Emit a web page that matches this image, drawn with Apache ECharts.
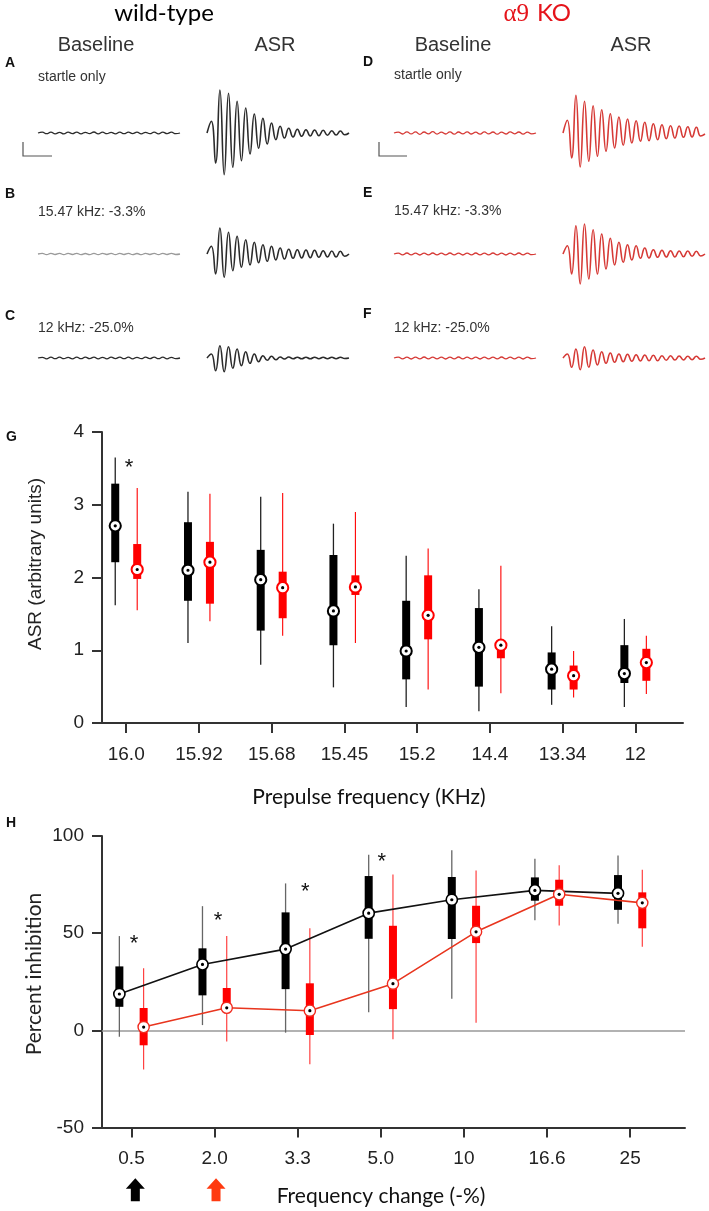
<!DOCTYPE html>
<html>
<head>
<meta charset="utf-8">
<script src="https://cdn.jsdelivr.net/npm/echarts@6/dist/echarts.min.js"></script>
<style>
html, body { margin: 0; padding: 0; background: #fff; }
#main { width: 709px; height: 1211px; }
</style>
</head>
<body>
<div id="main"></div>
<script>
// ---- traces A-F: extrema (px of deflection, up = +) ----
var wtBaseA = [0, 0.8, -0.7, 0.9, -0.8, 0.6, -0.9, 0.8, -0.6, 0.9, -0.8, 0.7, -0.7, 1.0, -0.9, 0.8, -0.7, 0.6, -0.8, 0.9, -0.7, 0.8, -0.6, 0.8, -0.9, 0.7, -0.7, 0.8, -0.8, 0.9, -0.6, 0.8, -0.7, 0];
var wtAsrA = [0, 11.7, -30, 43, -41.7, 39.7, -34.3, 31.7, -27.7, 25, -21, 19, -15.3, 14.7, -11, 10, -6.7, 6.7, -5, 4.7, -4, 3.7, -3.3, 3.3, -3, 3, -2.7, 2.7, -2.3, 2.3, -2, 2, -1.7, 0];
var wtBaseB = [0, 0.6, -0.6, 0.7, -0.5, 0.6, -0.7, 0.6, -0.5, 0.7, -0.6, 0.5, -0.6, 0.7, -0.6, 0.6, -0.5, 0.6, -0.6, 0.7, -0.5, 0.6, -0.6, 0.5, -0.7, 0.6, -0.5, 0.6, -0.6, 0.7, -0.5, 0.6, -0.5, 0];
var wtAsrB = [0, 7.7, -20, 26, -23.3, 21.7, -16.7, 17.7, -13.3, 14.3, -11, 11.7, -8.7, 9.3, -7.3, 7.7, -6, 6, -5, 4.7, -4.3, 4.3, -4, 4, -3.7, 3.7, -3.3, 3.3, -3, 3, -3, 2.7, -2.3, 0];
var wtBaseC = [0, 0.7, -0.8, 0.8, -0.7, 0.9, -0.7, 0.6, -0.8, 0.8, -0.7, 0.9, -0.6, 0.8, -0.8, 0.7, -0.9, 0.8, -0.6, 0.8, -0.7, 0.9, -0.8, 0.7, -0.7, 0.8, -0.6, 0.9, -0.7, 0.8, -0.8, 0.7, -0.6, 0];
var wtAsrC = [0, 4, -12.7, 12.3, -13.7, 11.3, -10.3, 9, -7.7, 6.3, -5.3, 4, -3.7, 2.3, -2.3, 1.7, -1.7, 1, -1, 1, -0.8, 0.8, -0.8, 0.8, -0.8, 0.8, -0.7, 0.7, -0.7, 0.7, -0.7, 0.7, -0.5, 0];
var koBaseD = [0, 0.9, -1.0, 1.2, -0.9, 1.1, -1.3, 1.0, -0.8, 1.3, -1.1, 0.9, -1.0, 1.2, -1.2, 1.0, -0.9, 1.1, -1.0, 0.8, -1.1, 1.2, -0.9, 1.0, -1.2, 0.9, -1.0, 1.1, -0.8, 1.0, -1.1, 0.9, -0.8, 0];
var koAsrD = [0, 12.7, -25, 37.7, -34, 31.7, -28.3, 27.3, -23.3, 23.3, -18.3, 19.3, -15, 16, -12.3, 14, -10, 12.3, -8.3, 10.7, -7.7, 9.3, -6.7, 8.3, -5.7, 7.3, -5, 7, -4.3, 6.3, -4, 5.7, -3, -1];
var koBaseE = [0, 0.8, -0.9, 1.0, -0.8, 0.9, -1.0, 0.8, -0.9, 1.0, -0.8, 0.9, -0.9, 1.0, -0.8, 0.9, -1.0, 0.8, -0.9, 1.0, -0.8, 0.9, -0.8, 1.0, -0.9, 0.8, -1.0, 0.9, -0.8, 1.0, -0.9, 0.8, -0.7, 0];
var koAsrE = [0, 8.3, -20, 28.3, -30, 30, -25, 24.3, -20, 20, -15, 15.7, -11, 11.7, -8.3, 9.3, -6, 8.3, -4.3, 6, -4, 4.3, -3.3, 3.7, -3, 3.3, -3, 3, -2.7, 3, -2.3, 2.7, -2, 0];
var koBaseF = [0, 0.8, -0.8, 0.9, -1.0, 0.8, -0.9, 1.0, -0.8, 0.9, -0.9, 0.8, -1.0, 0.9, -0.8, 1.0, -0.9, 0.8, -0.8, 0.9, -1.0, 0.8, -0.9, 0.9, -0.8, 1.0, -0.8, 0.9, -0.9, 0.8, -1.0, 0.9, -0.7, 0];
var koAsrF = [0, 4, -9.3, 9, -11.7, 11.3, -9.3, 8, -7, 6.3, -5.3, 5, -4.3, 4, -3.7, 3.7, -3.3, 3.3, -3, 3, -2.7, 2.7, -2.7, 2.3, -2.3, 2.3, -2, 2, -2, 1.7, -1.7, 1.7, -1.3, 0];

// ---- panel G: ASR per prepulse frequency, [min, q1, median, q3, max] ----
var gCats = ['16.0', '15.92', '15.68', '15.45', '15.2', '14.4', '13.34', '12'];
var gWildType = [
    [1.62, 2.21, 2.71, 3.29, 3.65],
    [1.10, 1.68, 2.10, 2.76, 3.18],
    [0.80, 1.27, 1.97, 2.38, 3.11],
    [0.49, 1.07, 1.54, 2.31, 2.74],
    [0.22, 0.60, 0.99, 1.68, 2.30],
    [0.16, 0.50, 1.04, 1.58, 1.84],
    [0.25, 0.46, 0.74, 0.97, 1.33],
    [0.22, 0.55, 0.68, 1.07, 1.43]
];
var gKnockout = [
    [1.55, 1.98, 2.11, 2.46, 3.23],
    [1.40, 1.64, 2.21, 2.49, 3.15],
    [1.20, 1.44, 1.86, 2.08, 3.16],
    [1.10, 1.76, 1.87, 2.03, 2.90],
    [0.46, 1.15, 1.48, 2.03, 2.40],
    [0.41, 0.89, 1.07, 1.14, 2.16],
    [0.35, 0.46, 0.65, 0.79, 0.99],
    [0.40, 0.58, 0.83, 1.02, 1.20]
];
var gSig = [[0.04, 3.57]];

// ---- panel H: percent inhibition per frequency change ----
var hCats = ['0.5', '2.0', '3.3', '5.0', '10', '16.6', '25'];
var hWildType = [
    [-3.3, 12.1, 18.7, 32.9, 48.5],
    [2.7, 18.0, 33.9, 42.2, 63.9],
    [-1.2, 21.2, 41.8, 60.7, 75.6],
    [9.3, 47.1, 60.3, 79.4, 90.3],
    [16.3, 47.0, 67.2, 78.9, 92.7],
    [56.6, 66.7, 72.0, 78.7, 88.3],
    [54.8, 62.0, 70.5, 79.9, 90.0]
];
var hKnockout = [
    [-20.1, -7.7, 1.7, 11.5, 32.0],
    [-5.8, 9.5, 11.6, 21.8, 48.5],
    [-17.5, -2.4, 10.1, 24.2, 52.5],
    [-4.6, 10.9, 24.0, 53.8, 80.2],
    [3.9, 44.9, 50.7, 64.1, 82.3],
    [54.0, 64.1, 70.0, 77.5, 85.0],
    [43.0, 52.5, 65.6, 71.0, 82.6]
];
var hSig = [[0.03, 47.2], [1.04, 59], [2.09, 73.9], [3.01, 89.3]];
var hArrows = [[0.046, -82, '#000000'], [1.017, -82, '#ff3a10']];

var FONT = 'Liberation Sans, Arial, sans-serif';
var LATO = 'Lato, Noto Sans, sans-serif';
var WT = '#2b2b2b', KO = '#d63a36', RED = '#ff0000';

var chart = echarts.init(document.getElementById('main'));

// trace layout: columns = WT baseline, WT ASR, KO baseline, KO ASR; rows = A/D, B/E, C/F
var traceCols = [38, 207, 394, 563];
var traceRows = [133, 254, 358];
var traces = [
    { d: wtBaseA, c: 0, r: 0, color: WT, w: 1.3 },
    { d: wtAsrA, c: 1, r: 0, color: WT, w: 1.6 },
    { d: wtBaseB, c: 0, r: 1, color: '#9a9a9a', w: 1.3 },
    { d: wtAsrB, c: 1, r: 1, color: WT, w: 1.6 },
    { d: wtBaseC, c: 0, r: 2, color: WT, w: 1.3 },
    { d: wtAsrC, c: 1, r: 2, color: WT, w: 1.6 },
    { d: koBaseD, c: 2, r: 0, color: KO, w: 1.3 },
    { d: koAsrD, c: 3, r: 0, color: KO, w: 1.6 },
    { d: koBaseE, c: 2, r: 1, color: KO, w: 1.3 },
    { d: koAsrE, c: 3, r: 1, color: KO, w: 1.6 },
    { d: koBaseF, c: 2, r: 2, color: KO, w: 1.3 },
    { d: koAsrF, c: 3, r: 2, color: KO, w: 1.6 }
];

var grids = [], xAxes = [], yAxes = [], series = [];
traces.forEach(function (t, k) {
    grids.push({ left: traceCols[t.c], top: traceRows[t.r] - 50, width: 142, height: 100 });
    xAxes.push({ gridIndex: k, type: 'value', min: 0, max: t.d.length - 1, show: false });
    yAxes.push({ gridIndex: k, type: 'value', min: -50, max: 50, show: false });
    series.push({
        type: 'line', xAxisIndex: k, yAxisIndex: k, silent: true, smooth: true, symbol: 'none',
        lineStyle: { color: t.color, width: t.w },
        data: t.d.map(function (v, i) { return [i, v]; })
    });
});

var G = traces.length, H = traces.length + 1;
var G_OFF = 0.151, H_OFF = 0.146;

grids.push({ left: 102, right: 26, top: 432, bottom: 488 });
grids.push({ left: 102, right: 24, top: 836, bottom: 83.5 });

function idx(arr) { return arr.map(function (c, i) { return i; }); }

function catAxis(grid, cats, min, max) {
    return {
        gridIndex: grid, type: 'value', min: min, max: max,
        axisLine: { show: true, onZero: false, lineStyle: { color: '#333', width: 2 } },
        axisTick: { show: true, customValues: idx(cats), length: 10, lineStyle: { color: '#333', width: 2 } },
        axisLabel: {
            customValues: idx(cats), margin: 22, fontSize: 19, color: '#222', fontFamily: FONT,
            formatter: function (v) { return cats[Math.round(v)]; }
        },
        splitLine: { show: false }
    };
}
function valAxis(grid, min, max, step) {
    return {
        gridIndex: grid, type: 'value', min: min, max: max, interval: step,
        axisLine: { show: true, onZero: false, lineStyle: { color: '#333', width: 2 } },
        axisTick: { show: true, length: 10, lineStyle: { color: '#333', width: 2 } },
        axisLabel: { margin: 18, fontSize: 19, color: '#222', fontFamily: FONT },
        splitLine: { show: false }
    };
}
xAxes.push(catAxis(G, gCats, -0.333, 7.655));
xAxes.push(catAxis(H, hCats, -0.355, 6.66));
yAxes.push(valAxis(G, 0, 4, 1));
yAxes.push(valAxis(H, -50, 100, 50));

function boxSeries(ax, rows, off, fill, whisker, ww) {
    return {
        type: 'custom', xAxisIndex: ax, yAxisIndex: ax, z: 2, silent: true,
        data: rows.map(function (r, i) { return [i + off].concat(r); }),
        renderItem: function (p, api) {
            var x = api.value(0);
            var lo = api.coord([x, api.value(1)]);
            var q1 = api.coord([x, api.value(2)]);
            var q3 = api.coord([x, api.value(4)]);
            var hi = api.coord([x, api.value(5)]);
            return {
                type: 'group', children: [
                    { type: 'line', shape: { x1: lo[0], y1: lo[1], x2: hi[0], y2: hi[1] }, style: { stroke: whisker, lineWidth: ww } },
                    { type: 'rect', shape: { x: lo[0] - 4, y: q3[1], width: 8, height: q1[1] - q3[1] }, style: { fill: fill } }
                ]
            };
        }
    };
}
function medianSeries(ax, rows, off, ring, lw) {
    return {
        type: 'custom', xAxisIndex: ax, yAxisIndex: ax, z: 4, silent: true,
        data: rows.map(function (r, i) { return [i + off, r[2]]; }),
        renderItem: function (p, api) {
            var c = api.coord([api.value(0), api.value(1)]);
            return {
                type: 'group', children: [
                    { type: 'circle', shape: { cx: c[0], cy: c[1], r: 5.6 }, style: { fill: '#fff', stroke: ring, lineWidth: lw } },
                    { type: 'circle', shape: { cx: c[0], cy: c[1], r: 1.6 }, style: { fill: '#000' } }
                ]
            };
        }
    };
}
function starSeries(ax, pts) {
    return {
        type: 'custom', xAxisIndex: ax, yAxisIndex: ax, z: 5, silent: true, data: pts,
        renderItem: function (p, api) {
            var c = api.coord([api.value(0), api.value(1)]);
            return { type: 'text', x: c[0], y: c[1] + 5, style: { text: '*', fontSize: 22, fontFamily: FONT, fill: '#111', align: 'center', verticalAlign: 'middle' } };
        }
    };
}

// panel G
series.push(boxSeries(G, gWildType, -G_OFF, '#000', '#222', 1.3));
series.push(boxSeries(G, gKnockout, G_OFF, RED, RED, 1.1));
series.push(medianSeries(G, gWildType, -G_OFF, '#000', 2));
series.push(medianSeries(G, gKnockout, G_OFF, RED, 2));
series.push(starSeries(G, gSig));

// panel H
series.push(boxSeries(H, hWildType, -H_OFF, '#000', '#666', 1.3));
series.push(boxSeries(H, hKnockout, H_OFF, RED, '#ff3030', 1.1));
series.push({
    type: 'line', xAxisIndex: H, yAxisIndex: H, z: 3, silent: true, symbol: 'none',
    lineStyle: { color: '#111', width: 1.6 },
    data: hWildType.map(function (r, i) { return [i - H_OFF, r[2]]; }),
    markLine: {
        z: 1, silent: true, symbol: 'none', label: { show: false },
        lineStyle: { color: '#999', width: 1.5, type: 'solid' },
        data: [{ yAxis: 0 }]
    }
});
series.push({
    type: 'line', xAxisIndex: H, yAxisIndex: H, z: 3, silent: true, symbol: 'none',
    lineStyle: { color: '#e8351e', width: 1.6 },
    data: hKnockout.map(function (r, i) { return [i + H_OFF, r[2]]; })
});
series.push(medianSeries(H, hWildType, -H_OFF, '#000', 1.6));
series.push(medianSeries(H, hKnockout, H_OFF, '#f02a1e', 1.4));
series.push(starSeries(H, hSig));
series.push({
    type: 'custom', xAxisIndex: H, yAxisIndex: H, z: 5, silent: true, clip: false, data: hArrows,
    renderItem: function (p, api) {
        var c = api.coord([api.value(0), api.value(1)]);
        var pts = [[0, -11.5], [9.5, -1], [4.5, -1], [4.5, 11.5], [-4.5, 11.5], [-4.5, -1], [-9.5, -1]];
        return {
            type: 'polygon',
            shape: { points: pts.map(function (q) { return [c[0] + q[0], c[1] + q[1]]; }) },
            style: { fill: hArrows[p.dataIndex][2] }
        };
    }
});

function txt(s, x, y, size, family, color, align, extra) {
    var el = {
        type: 'text', x: x, y: y, silent: true,
        style: { text: s, fontSize: size, fontFamily: family, fill: color, align: align || 'center', verticalAlign: 'middle' }
    };
    if (extra) { for (var k in extra) { if (k === 'rotation') el.rotation = extra[k]; else el.style[k] = extra[k]; } }
    return el;
}
var bold = { fontWeight: 'bold' };
var graphic = [
    txt('wild-type', 164, 13, 24, LATO, '#000'),
    txt('α9', 529, 14, 25, 'Liberation Serif, serif', '#e5141b', 'right'),
    txt('KO', 537, 13, 24, LATO, '#e5141b', 'left'),
    txt('Baseline', 96, 45, 20, FONT, '#333'),
    txt('ASR', 275, 45, 20, FONT, '#333'),
    txt('Baseline', 453, 45, 20, FONT, '#333'),
    txt('ASR', 631, 45, 20, FONT, '#333'),
    txt('A', 5, 63, 14, FONT, '#111', 'left', bold),
    txt('B', 5, 194, 14, FONT, '#111', 'left', bold),
    txt('C', 5, 316, 14, FONT, '#111', 'left', bold),
    txt('D', 363, 62, 14, FONT, '#111', 'left', bold),
    txt('E', 363, 193, 14, FONT, '#111', 'left', bold),
    txt('F', 363, 314, 14, FONT, '#111', 'left', bold),
    txt('startle only', 38, 77, 14, FONT, '#333', 'left'),
    txt('15.47 kHz: -3.3%', 38, 212, 14, FONT, '#333', 'left'),
    txt('12 kHz: -25.0%', 38, 328, 14, FONT, '#333', 'left'),
    txt('startle only', 394, 75, 14, FONT, '#333', 'left'),
    txt('15.47 kHz: -3.3%', 394, 211, 14, FONT, '#333', 'left'),
    txt('12 kHz: -25.0%', 394, 328, 14, FONT, '#333', 'left'),
    txt('G', 6, 437, 14, FONT, '#111', 'left', bold),
    txt('H', 6, 823, 14, FONT, '#111', 'left', bold),
    txt('ASR (arbitrary units)', 36, 564, 19, FONT, '#222', 'center', { rotation: Math.PI / 2 }),
    txt('Percent inhibition', 34, 974, 21, LATO, '#222', 'center', { rotation: Math.PI / 2 }),
    txt('Prepulse frequency (KHz)', 369, 797, 21, LATO, '#111'),
    txt('Frequency change (-%)', 381, 1196, 21, LATO, '#111'),
    { type: 'polyline', silent: true, shape: { points: [[23, 142], [23, 156], [52, 156]] }, style: { stroke: '#555', lineWidth: 1.2, fill: null } },
    { type: 'polyline', silent: true, shape: { points: [[379, 142], [379, 156], [407, 156]] }, style: { stroke: '#555', lineWidth: 1.2, fill: null } }
];

chart.setOption({
    animation: false,
    backgroundColor: '#fff',
    grid: grids,
    xAxis: xAxes,
    yAxis: yAxes,
    series: series,
    graphic: graphic
});
</script>
</body>
</html>
